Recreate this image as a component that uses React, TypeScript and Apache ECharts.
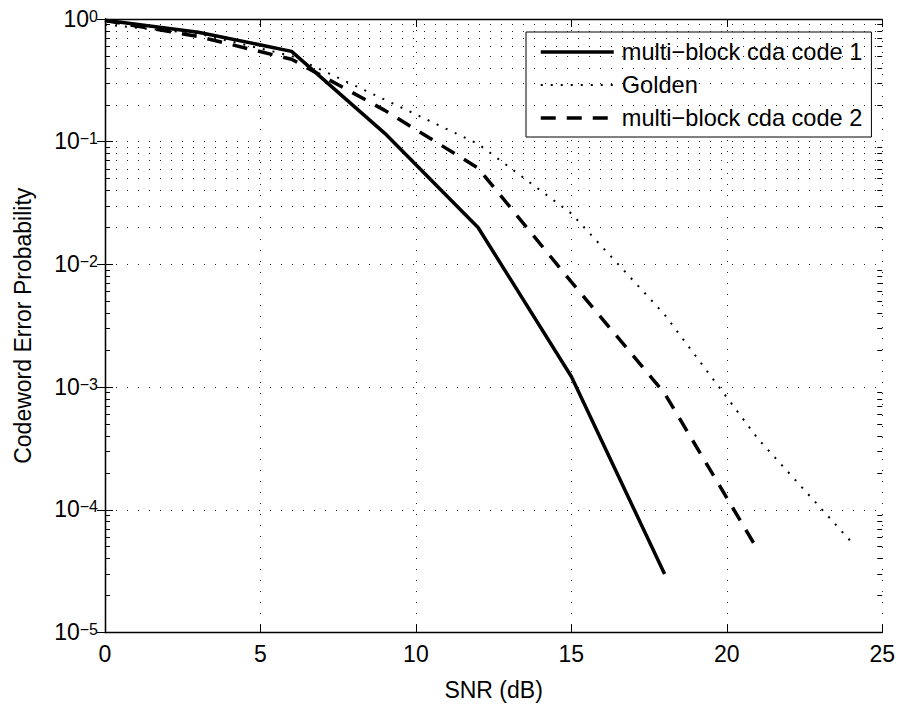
import React, { useEffect, useRef } from "react";
import * as echarts from "echarts";

// ---- data ----
const snrCode1 = [0, 3, 6, 9, 12, 15, 18];
const code1 = [0.975, 0.78, 0.545, 0.117, 0.02, 0.00122, 3.0e-5];

const snrGolden = [0, 3, 6, 9, 12, 15, 18, 21, 24];
const golden = [0.9, 0.76, 0.5, 0.22, 0.096, 0.026, 0.0039, 0.00038, 5.5e-5];

const snrCode2 = [0, 3, 6, 9, 12, 15, 18, 21];
const code2 = [0.97, 0.72, 0.47, 0.18, 0.061, 0.0072, 0.00089, 4.7e-5];

const seriesNames = ["multi\u2212block cda code 1", "Golden", "multi\u2212block cda code 2"];
const xTicks = [0, 5, 10, 15, 20, 25];
const decadeExponents = [-5, -4, -3, -2, -1, 0];
const minorMantissas = [2, 3, 4, 5, 6, 7, 8, 9];

const FONT = "'Liberation Sans', Arial, Helvetica, sans-serif";
const FS = 23;

export default function App() {
  const ref = useRef<HTMLDivElement>(null);

  useEffect(() => {
    if (!ref.current) return;
    const chart = echarts.init(ref.current, undefined, { renderer: "svg" });

    const minorValues: number[] = [];
    decadeExponents.slice(0, -1).forEach((e) => {
      minorMantissas.forEach((m) => minorValues.push(m * Math.pow(10, e)));
    });

    const xMin = xTicks[0];
    const xMax = xTicks[xTicks.length - 1];
    const yMin = Math.pow(10, decadeExponents[0]);
    const yMax = Math.pow(10, decadeExponents[decadeExponents.length - 1]);

    const gridDot = { type: [1, 10] as any, color: "#222", width: 1 };

    const yLabelFormatter = (v: number) => {
      const e = Math.round(Math.log10(v));
      const s = e < 0 ? "\u2212" + Math.abs(e) : String(e);
      return "{b|10}{s|" + s + "}";
    };

    const option: any = {
      animation: false,
      backgroundColor: "#fff",
      textStyle: { fontFamily: FONT, color: "#000" },
      grid: { left: 105, right: 15, top: 19, bottom: 76.5, show: false },
      legend: {
        data: seriesNames,
        orient: "vertical",
        left: 526,
        top: 32,
        padding: [8, 9, 7, 13],
        itemGap: 9,
        itemWidth: 73,
        itemHeight: 21,
        borderColor: "#000",
        borderWidth: 1,
        borderRadius: 0,
        backgroundColor: "#fff",
        selectedMode: false,
        itemStyle: { color: "rgba(0,0,0,0)", borderWidth: 0, opacity: 0 },
        lineStyle: { width: "inherit", type: "inherit", color: "#000" },
        textStyle: { fontFamily: FONT, fontSize: 23.6, color: "#000", padding: [0, 0, 0, 3] },
      },
      xAxis: [
        {
          type: "value",
          min: xMin,
          max: xMax,
          interval: 5,
          name: "SNR (dB)",
          nameLocation: "middle",
          nameGap: 46,
          nameTextStyle: { fontFamily: FONT, fontSize: FS, color: "#000" },
          axisLine: { show: true, lineStyle: { color: "#000", width: 1.3 } },
          axisTick: { show: true, inside: true, length: 8, lineStyle: { color: "#000", width: 1 } },
          axisLabel: { fontFamily: FONT, fontSize: FS, color: "#000", margin: 10 },
          splitLine: { show: true, lineStyle: gridDot },
        },
        {
          type: "value",
          position: "top",
          min: xMin,
          max: xMax,
          interval: 5,
          axisLine: { show: true, lineStyle: { color: "#000", width: 1.3 } },
          axisTick: { show: true, inside: true, length: 8, lineStyle: { color: "#000", width: 1 } },
          axisLabel: { show: false },
          splitLine: { show: false },
        },
      ],
      yAxis: [
        {
          type: "log",
          logBase: 10,
          min: yMin,
          max: yMax,
          name: "Codeword Error Probability",
          nameLocation: "middle",
          nameGap: 71,
          nameTextStyle: { fontFamily: FONT, fontSize: FS, color: "#000" },
          axisLine: { show: true, lineStyle: { color: "#000", width: 1.3 } },
          axisTick: { show: true, inside: true, length: 8, lineStyle: { color: "#000", width: 1 } },
          axisLabel: {
            margin: 7,
            formatter: yLabelFormatter,
            rich: {
              b: { fontFamily: FONT, fontSize: FS, color: "#000", lineHeight: 22, verticalAlign: "bottom" },
              s: { fontFamily: FONT, fontSize: 16, color: "#000", lineHeight: 16, verticalAlign: "top" },
            },
            lineHeight: 26,
          },
          splitLine: { show: true, lineStyle: gridDot },
        },
        {
          type: "log",
          logBase: 10,
          position: "right",
          min: yMin,
          max: yMax,
          axisLine: { show: true, lineStyle: { color: "#000", width: 1.3 } },
          axisTick: { show: true, inside: true, length: 8, lineStyle: { color: "#000", width: 1 } },
          axisLabel: { show: false },
          splitLine: { show: false },
        },
      ],
      series: [
        {
          name: "minorGrid",
          type: "line",
          data: [],
          z: 1,
          silent: true,
          markLine: {
            silent: true,
            symbol: "none",
            label: { show: false },
            animation: false,
            lineStyle: gridDot,
            emphasis: { disabled: true },
            data: minorValues.map((v) => ({ yAxis: v })),
          },
        },
        {
          name: "minorTicks",
          type: "line",
          data: [],
          z: 3,
          silent: true,
          markLine: {
            silent: true,
            symbol: "none",
            label: { show: false },
            animation: false,
            lineStyle: { type: "solid", color: "#000", width: 1 },
            emphasis: { disabled: true },
            data: [
              ...minorValues.map((v) => [{ coord: [xMin, v] }, { coord: [xMin + 0.16, v] }]),
              ...minorValues.map((v) => [{ coord: [xMax - 0.16, v] }, { coord: [xMax, v] }]),
            ],
          },
        },
        {
          name: seriesNames[0],
          type: "line",
          z: 5,
          symbol: "none",
          showSymbol: false,
          data: snrCode1.map((x, i) => [x, code1[i]]),
          lineStyle: { color: "#000", width: 3.5, type: "solid" },
          itemStyle: { color: "#000" },
        },
        {
          name: seriesNames[1],
          type: "line",
          z: 5,
          symbol: "none",
          showSymbol: false,
          data: snrGolden.map((x, i) => [x, golden[i]]),
          lineStyle: { color: "#000", width: 2, type: [2, 8] },
          itemStyle: { color: "#000" },
        },
        {
          name: seriesNames[2],
          type: "line",
          z: 5,
          symbol: "none",
          showSymbol: false,
          data: snrCode2.map((x, i) => [x, code2[i]]),
          lineStyle: { color: "#000", width: 3.5, type: [15, 11] },
          itemStyle: { color: "#000" },
        },
      ],
    };

    chart.setOption(option);
    return () => chart.dispose();
  }, []);

  return (
    <div
      ref={ref}
      style={{ position: "absolute", left: 0, top: 0, width: 898, height: 709, background: "#fff" }}
    />
  );
}
